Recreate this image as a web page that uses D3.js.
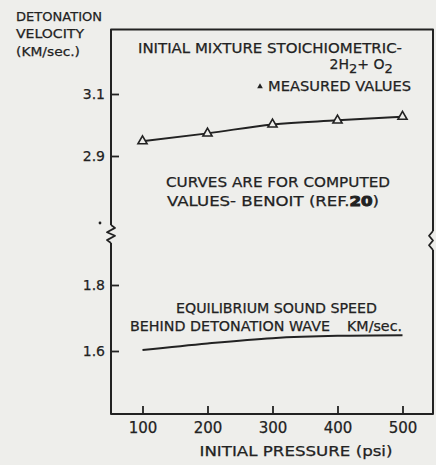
<!DOCTYPE html>
<html>
<head>
<meta charset="utf-8">
<script src="https://cdn.jsdelivr.net/npm/d3@7/dist/d3.min.js"></script>
<style>
  html, body { margin: 0; padding: 0; background: #eeeeeb; }
  svg { display: block; }
  text { font-family: "DejaVu Sans", sans-serif; fill: #222; stroke: #222; stroke-width: 0.25px; }
</style>
</head>
<body>
<svg id="chart" width="436" height="465"></svg>
<script>
// Initial pressure (psi) and detonation / sound-speed values (km/sec)
const pressures = [100, 200, 300, 400, 500];
const measuredVelocity = [2.948, 2.973, 3.002, 3.015, 3.027];
const computedVelocity = [2.948, 2.973, 3.002, 3.015, 3.027];
const soundSpeed = [1.603, 1.623, 1.639, 1.646, 1.648];
const pressureTicks = [100, 200, 300, 400, 500];
const upperTicks = [2.9, 3.1];
const lowerTicks = [1.6, 1.8];

const ink = "#222";
const paper = "#eeeeeb";
const font = '"DejaVu Sans", sans-serif';
const svg = d3.select("#chart");

// Frame and broken-axis layout
const frame = { left: 111, right: 433, top: 29.5, bottom: 414 };
const leftBreak = [225, 243];
const rightBreak = [231, 250];

const x = d3.scaleLinear().domain([100, 500]).range([142.5, 402.5]);
const yUpper = d3.scaleLinear().domain([2.9, 3.1]).range([156, 94]);
const yLower = d3.scaleLinear().domain([1.6, 1.8]).range([351, 285]);

// Frame with break marks on the vertical sides
const line = d3.line();
const frameG = svg.append("g")
  .attr("fill", "none").attr("stroke", ink)
  .attr("stroke-width", 2).attr("stroke-linejoin", "round");

frameG.append("path").attr("d", line([
  [frame.left, leftBreak[0]], [frame.left, frame.top],
  [frame.right, frame.top], [frame.right, rightBreak[0]]
]));
frameG.append("path").attr("d", line([
  [frame.left, leftBreak[1]], [frame.left, frame.bottom],
  [frame.right, frame.bottom], [frame.right, rightBreak[1]]
]));
// left zigzag
const lz = leftBreak[0], lh = (leftBreak[1] - leftBreak[0]) / 5;
frameG.append("path").attr("stroke-width", 1.8).attr("d", line([
  [frame.left, lz], [frame.left + 4, lz + lh * 0.8], [frame.left - 4, lz + lh * 2],
  [frame.left + 4, lz + lh * 3], [frame.left - 4, lz + lh * 4.2], [frame.left, lz + lh * 5]
]));
// right chevrons
const rz = rightBreak[0], rh = (rightBreak[1] - rightBreak[0]) / 4;
frameG.append("path").attr("stroke-width", 1.8).attr("d", line([
  [frame.right, rz], [frame.right - 4, rz + rh], [frame.right, rz + rh * 2],
  [frame.right - 4, rz + rh * 3], [frame.right, rz + rh * 4]
]));
svg.append("circle").attr("cx", frame.left - 11).attr("cy", leftBreak[0] - 2)
  .attr("r", 1.4).attr("fill", ink);

// Axes (ticks point inward)
const xAxis = svg.append("g")
  .attr("transform", `translate(0,${frame.bottom})`)
  .call(d3.axisBottom(x).tickValues(pressureTicks).tickSizeInner(-8).tickSizeOuter(0).tickPadding(8));
const yAxisU = svg.append("g")
  .attr("transform", `translate(${frame.left},0)`)
  .call(d3.axisLeft(yUpper).tickValues(upperTicks).tickFormat(d3.format(".1f")).tickSizeInner(-8).tickSizeOuter(0).tickPadding(6));
const yAxisL = svg.append("g")
  .attr("transform", `translate(${frame.left},0)`)
  .call(d3.axisLeft(yLower).tickValues(lowerTicks).tickFormat(d3.format(".1f")).tickSizeInner(-8).tickSizeOuter(0).tickPadding(6));

[xAxis, yAxisU, yAxisL].forEach(g => {
  g.select(".domain").remove();
  g.selectAll(".tick line").attr("stroke", ink).attr("stroke-width", 1.8);
  g.selectAll(".tick text").attr("fill", ink)
    .style("font-family", font).style("font-size", "14px");
});
xAxis.selectAll(".tick text").style("font-size", "15px");

// Curves
const upperLine = d3.line().x((d, i) => x(pressures[i])).y(d => yUpper(d)).curve(d3.curveMonotoneX);
const lowerLine = d3.line().x((d, i) => x(pressures[i])).y(d => yLower(d)).curve(d3.curveMonotoneX);

svg.append("path").datum(computedVelocity)
  .attr("d", upperLine).attr("fill", "none").attr("stroke", ink).attr("stroke-width", 2);
svg.append("path").datum(soundSpeed)
  .attr("d", lowerLine).attr("fill", "none").attr("stroke", ink).attr("stroke-width", 2);

// Measured points
const tri = d3.symbol().type(d3.symbolTriangle).size(36);
svg.append("g").selectAll("path").data(measuredVelocity).join("path")
  .attr("transform", (d, i) => `translate(${x(pressures[i])},${yUpper(d)})`)
  .attr("d", tri).attr("fill", paper).attr("stroke", ink).attr("stroke-width", 1.6);

// Annotations
function label(txt, px, py, size, width) {
  const t = svg.append("text").attr("x", px).attr("y", py)
    .style("font-size", size + "px").text(txt);
  if (width) t.attr("textLength", width).attr("lengthAdjust", "spacingAndGlyphs");
  return t;
}

label("DETONATION", 16, 21, 13, 86);
label("VELOCITY", 16, 38, 13, 68);
label("(KM/sec.)", 16, 55.5, 13, 64);

label("INITIAL MIXTURE STOICHIOMETRIC-", 138, 52.7, 14, 264);

const formula = svg.append("text").attr("x", 329.5).attr("y", 68.5).style("font-size", "14px");
formula.append("tspan").text("2H");
formula.append("tspan").attr("dy", 4).style("font-size", "13px").text("2");
formula.append("tspan").attr("dy", -4).text("+ O");
formula.append("tspan").attr("dy", 4).style("font-size", "13px").text("2");

svg.append("path")
  .attr("transform", "translate(260,86.5)")
  .attr("d", d3.symbol().type(d3.symbolTriangle).size(14))
  .attr("fill", ink);
label("MEASURED VALUES", 268, 90.5, 14, 143);

label("CURVES ARE FOR COMPUTED", 166, 187.3, 14, 224);
const ref = svg.append("text").attr("x", 167).attr("y", 205.5).style("font-size", "14px")
  .attr("textLength", 212).attr("lengthAdjust", "spacingAndGlyphs");
ref.append("tspan").text("VALUES- BENOIT (REF.");
ref.append("tspan").style("font-weight", "bold").style("stroke-width", "1px").text("20");
ref.append("tspan").text(")");

label("EQUILIBRIUM SOUND SPEED", 176, 313, 14, 201);
label("BEHIND DETONATION WAVE", 130, 331, 14, 200);
label("KM/sec.", 347, 331, 14, 55);

label("INITIAL  PRESSURE  (psi)", 199.5, 456, 14, 193);
</script>
</body>
</html>
